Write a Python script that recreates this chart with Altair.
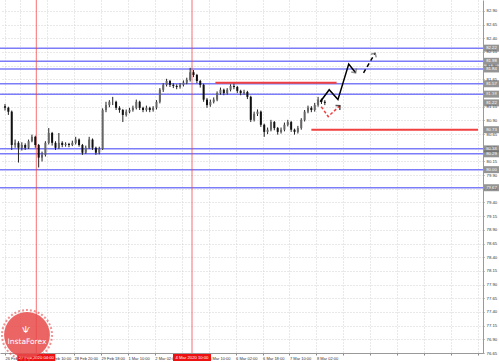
import altair as alt
import pandas as pd

# ---------------- data ----------------
# 2-hour candles, x in hours from the chart's left edge
closes = [81.13, 81.06, 80.45, 80.49, 80.40, 80.45, 80.40, 80.52, 80.60, 80.45,
          80.22, 80.27, 80.49, 80.67, 80.49, 80.40, 80.49, 80.45, 80.47, 80.45,
          80.49, 80.55, 80.45, 80.31, 80.40, 80.55, 80.40, 80.31, 80.38, 81.09,
          81.18, 81.24, 81.24, 81.13, 81.09, 81.00, 81.06, 81.09, 81.13, 81.24,
          81.13, 81.09, 81.13, 81.09, 81.13, 81.24, 81.46, 81.55, 81.62, 81.55,
          81.53, 81.51, 81.55, 81.59, 81.64, 81.78, 81.73, 81.62, 81.55, 81.28,
          81.18, 81.24, 81.28, 81.40, 81.46, 81.40, 81.46, 81.53, 81.51, 81.44,
          81.40, 81.42, 81.33, 80.91, 81.02, 81.06, 80.82, 80.69, 80.73, 80.87,
          80.76, 80.69, 80.73, 80.82, 80.87, 80.73, 80.69, 80.76, 80.91, 81.06,
          81.13, 81.09, 81.18, 81.28, 81.24, 81.22]
highs = [81.20, 81.15, 81.08, 80.55, 80.52, 80.50, 80.48, 80.55, 80.64, 80.62,
         80.47, 80.33, 80.52, 80.76, 80.69, 80.52, 80.67, 80.52, 80.50, 80.49,
         80.53, 80.60, 80.57, 80.47, 80.44, 80.60, 80.57, 80.42, 80.42, 81.12,
         81.24, 81.27, 81.33, 81.26, 81.16, 81.11, 81.10, 81.13, 81.17, 81.28,
         81.26, 81.15, 81.17, 81.15, 81.16, 81.27, 81.49, 81.58, 81.66, 81.64,
         81.58, 81.56, 81.58, 81.63, 81.68, 81.86, 81.82, 81.75, 81.64, 81.57,
         81.31, 81.28, 81.32, 81.43, 81.50, 81.48, 81.49, 81.56, 81.57, 81.53,
         81.46, 81.46, 81.44, 81.35, 81.06, 81.10, 81.08, 80.84, 80.77, 80.91,
         80.89, 80.78, 80.77, 80.86, 80.91, 80.89, 80.75, 80.80, 80.94, 81.09,
         81.17, 81.16, 81.22, 81.33, 81.30, 81.27]
lows = [81.08, 81.00, 80.36, 80.40, 80.13, 80.35, 80.36, 80.38, 80.50, 80.40,
        80.04, 80.15, 80.24, 80.46, 80.44, 80.36, 80.38, 80.41, 80.42, 80.41,
        80.43, 80.46, 80.42, 80.27, 80.29, 80.38, 80.36, 80.27, 80.28, 80.36,
        81.05, 81.14, 81.18, 81.09, 81.04, 80.87, 80.97, 81.03, 81.06, 81.10,
        81.09, 81.05, 81.06, 81.05, 81.06, 81.10, 81.21, 81.42, 81.52, 81.51,
        81.49, 81.47, 81.48, 81.52, 81.56, 81.61, 81.69, 81.58, 81.50, 81.24,
        81.13, 81.15, 81.21, 81.25, 81.37, 81.36, 81.37, 81.43, 81.47, 81.40,
        81.36, 81.37, 81.29, 80.87, 80.88, 80.98, 80.78, 80.60, 80.65, 80.70,
        80.72, 80.64, 80.66, 80.70, 80.79, 80.69, 80.64, 80.66, 80.73, 80.88,
        81.03, 81.05, 81.06, 81.15, 81.20, 81.18]
first_open = 81.16
opens = [first_open] + closes[:-1]
hours = [2 * i for i in range(len(closes))]

# horizontal support / resistance levels (blue) and their right-axis labels
blue_levels = [82.22, 81.98, 81.84, 81.57, 81.38, 80.38, 80.29, 80.00, 79.67]
# red level segments
red_prices = [81.59, 80.73]
red_start_h = [125, 182]
red_end_h = [197, 281]
current_price = 81.22

# vertical crosshair lines and their time labels
cross_h = [18.6, 111.1]
cross_labels = ["27 Feb 2020 04:00", "4 Mar 2020 10:00"]

# forecast paths
black_h = [187.3, 192.6, 197.8, 204.2, 208.3]
black_p = [81.24, 81.46, 81.28, 81.93, 81.77]
black_dash_h = [213.0, 219.9]
black_dash_p = [81.77, 82.13]
red_dash_h = [187.9, 192.0, 199.0]
red_dash_p = [81.15, 80.97, 81.17]

# axes
y_ticks = [76.65, 76.90, 77.15, 77.40, 77.65, 77.90, 78.15, 78.40, 78.65, 78.90,
           79.15, 79.40, 79.65, 79.90, 80.15, 80.40, 80.65, 80.90, 81.15, 81.40,
           81.65, 81.90, 82.15, 82.40, 82.65, 82.90]
x_tick_h = [0, 9, 25, 41, 57, 73, 89, 105, 121, 137, 153, 169, 185,
            201, 217, 233, 249, 265, 281]
# labels hidden under the red crosshair boxes are left empty
x_tick_labels = ["26 Feb 2020", "", "27 Feb 10:00", "28 Feb 20:00",
                 "29 Feb 18:00", "1 Mar 10:00", "2 Mar 02:00", "",
                 "5 Mar 10:00", "6 Mar 02:00", "6 Mar 18:00", "7 Mar 10:00",
                 "8 Mar 02:00", "", "", "", "", "", ""]

# ---------------- styles ----------------
W, H = 483, 353
BLUE = "#7c7cf8"
RED = "#f04040"
FONT = "Liberation Sans"

label_expr = "[" + ",".join("'%s'" % s for s in x_tick_labels) + "][indexof([" + \
    ",".join(str(v) for v in x_tick_h) + "], datum.value)]"

xs = alt.Scale(domain=[0, 281], nice=False, zero=False)
ys = alt.Scale(domain=[76.65, 83.10], nice=False, zero=False)

x_axis = alt.Axis(values=x_tick_h, labelExpr=label_expr, orient="bottom",
                  grid=True, gridColor="#d2d2d2", gridDash=[1, 2], gridWidth=1,
                  labelFontSize=4, labelFont=FONT, labelColor="#333",
                  labelAlign="left", labelPadding=1, labelOverlap=False,
                  labelFlush=False, tickSize=2, tickColor="#888",
                  domainColor="#999", title=None, zindex=0)
y_axis = alt.Axis(values=y_ticks, format=".2f", orient="right",
                  grid=True, gridColor="#d2d2d2", gridDash=[1, 2], gridWidth=1,
                  labelFontSize=4.3, labelFont=FONT, labelColor="#333",
                  labelOverlap=False, labelFlush=False,
                  labelPadding=2, tickSize=1, tickColor="#888",
                  domainColor="#999", title=None, zindex=0)

candles = pd.DataFrame({"h": hours, "open": opens, "close": closes,
                        "high": highs, "low": lows})
candles["dir"] = ["up" if c >= o else "down" for o, c in zip(opens, closes)]

base = alt.Chart(candles)
wicks = base.mark_rule(color="#222", strokeWidth=1).encode(
    x=alt.X("h:Q", scale=xs, axis=x_axis),
    y=alt.Y("low:Q", scale=ys, axis=y_axis),
    y2="high:Q")
bodies = base.mark_bar(size=2).encode(
    x=alt.X("h:Q", scale=xs, axis=x_axis),
    y=alt.Y("open:Q", scale=ys, axis=y_axis),
    y2="close:Q",
    color=alt.Color("dir:N", scale=alt.Scale(domain=["up", "down"],
                                             range=["#666666", "#111111"]),
                    legend=None))

blue_df = pd.DataFrame({"p": blue_levels})
blue_rules = alt.Chart(blue_df).mark_rule(color=BLUE, strokeWidth=1.5).encode(
    y=alt.Y("p:Q", scale=ys, axis=y_axis))

red_df = pd.DataFrame({"p": red_prices, "h0": red_start_h, "h1": red_end_h})
red_rules = alt.Chart(red_df).mark_rule(color=RED, strokeWidth=2).encode(
    y=alt.Y("p:Q", scale=ys, axis=y_axis), x=alt.X("h0:Q", scale=xs, axis=x_axis), x2="h1:Q")

cross_df = pd.DataFrame({"h": cross_h, "lab": cross_labels})
cross_rules = alt.Chart(cross_df).mark_rule(color=RED, strokeWidth=1, opacity=0.75).encode(
    x=alt.X("h:Q", scale=xs, axis=x_axis))
cross_boxes = alt.Chart(cross_df).mark_tick(orient="horizontal", size=38,
                                            thickness=7, color="#ee1111", opacity=1).encode(
    x=alt.X("h:Q", scale=xs, axis=x_axis), y=alt.value(357.5))
cross_text = alt.Chart(cross_df).mark_text(fontSize=4.2, font=FONT, color="white",
                                           align="center", baseline="middle").encode(
    x=alt.X("h:Q", scale=xs, axis=x_axis), y=alt.value(357.5), text="lab:N")

box_df = pd.DataFrame({
    "p": blue_levels + [red_prices[1], current_price],
    "kind": ["blue"] * len(blue_levels) + ["blue", "black"],
})
box_df["lab"] = [f"{v:.2f}" for v in box_df["p"]]
boxes = alt.Chart(box_df).mark_tick(orient="horizontal", size=15, thickness=7).encode(
    x=alt.value(491.5), y=alt.Y("p:Q", scale=ys, axis=y_axis),
    color=alt.Color("kind:N", scale=alt.Scale(domain=["blue", "black"],
                                              range=["#3838f0", "#000000"]),
                    legend=None))
box_text = alt.Chart(box_df).mark_text(fontSize=4.3, font=FONT, color="white",
                                       align="center", baseline="middle").encode(
    x=alt.value(491.5), y=alt.Y("p:Q", scale=ys, axis=y_axis), text="lab:N")

black_df = pd.DataFrame({"h": black_h, "p": black_p, "o": range(len(black_h))})
black_line = alt.Chart(black_df).mark_line(color="black", strokeWidth=1.5).encode(
    x=alt.X("h:Q", scale=xs, axis=x_axis), y=alt.Y("p:Q", scale=ys, axis=y_axis), order="o:Q")
bdash_df = pd.DataFrame({"h": black_dash_h, "p": black_dash_p, "o": [0, 1]})
bdash_line = alt.Chart(bdash_df).mark_line(color="black", strokeWidth=1.5,
                                           strokeDash=[4, 3]).encode(
    x=alt.X("h:Q", scale=xs, axis=x_axis), y=alt.Y("p:Q", scale=ys, axis=y_axis), order="o:Q")
rdash_df = pd.DataFrame({"h": red_dash_h, "p": red_dash_p, "o": [0, 1, 2]})
rdash_line = alt.Chart(rdash_df).mark_line(color=RED, strokeWidth=1.5,
                                           strokeDash=[3, 2]).encode(
    x=alt.X("h:Q", scale=xs, axis=x_axis), y=alt.Y("p:Q", scale=ys, axis=y_axis), order="o:Q")

chevron = "M -1 1 L 0 0 L 1 1"
heads_df = pd.DataFrame({
    "h": [black_h[-1], black_dash_h[-1], red_dash_h[-1]],
    "p": [black_p[-1], black_dash_p[-1], red_dash_p[-1]],
    "ang": [146, 31, 47],
    "kind": ["black", "black", "red"],
})
heads = alt.Chart(heads_df).mark_point(shape=chevron, filled=False, size=40,
                                       strokeWidth=1.5).encode(
    x=alt.X("h:Q", scale=xs, axis=x_axis), y=alt.Y("p:Q", scale=ys, axis=y_axis),
    angle=alt.Angle("ang:Q", scale=None),
    color=alt.Color("kind:N", scale=alt.Scale(domain=["black", "red"],
                                              range=["black", RED]), legend=None))

logo_df = pd.DataFrame({"t": ["InstaForex"]})
logo_circle = alt.Chart(logo_df).mark_point(shape="circle", filled=True, size=2100,
                                            color="#e84a4a", opacity=0.85).encode(
    x=alt.value(27), y=alt.value(335))
logo_ring = alt.Chart(logo_df).mark_point(shape="circle", filled=False, size=2500,
                                          color="#e84a4a", opacity=0.6,
                                          strokeWidth=2, strokeDash=[2, 2]).encode(
    x=alt.value(27), y=alt.value(335))
logo_text = alt.Chart(logo_df).mark_text(fontSize=7.5, font="DejaVu Sans", color="white",
                                         align="center", baseline="middle").encode(
    x=alt.value(27), y=alt.value(342), text="t:N")
logo_icon = alt.Chart(logo_df).mark_text(fontSize=9, font="DejaVu Sans", color="white",
                                         align="center", baseline="middle").encode(
    x=alt.value(26), y=alt.value(330), text=alt.value("Ѱ"))

chart = alt.layer(
    blue_rules, red_rules, cross_rules, wicks, bodies,
    black_line, bdash_line, rdash_line, heads,
    boxes, box_text, cross_boxes, cross_text,
    logo_ring, logo_circle, logo_text, logo_icon,
).properties(
    width=W, height=H,
    padding={"left": 0, "top": 0, "right": 16, "bottom": 9},
    autosize=alt.AutoSizeParams(type="none"),
    background="white",
).configure_view(stroke=None).configure_axis(labelOverlap=False)

chart.save("out.html", embed_options={"renderer": "svg", "actions": False})
